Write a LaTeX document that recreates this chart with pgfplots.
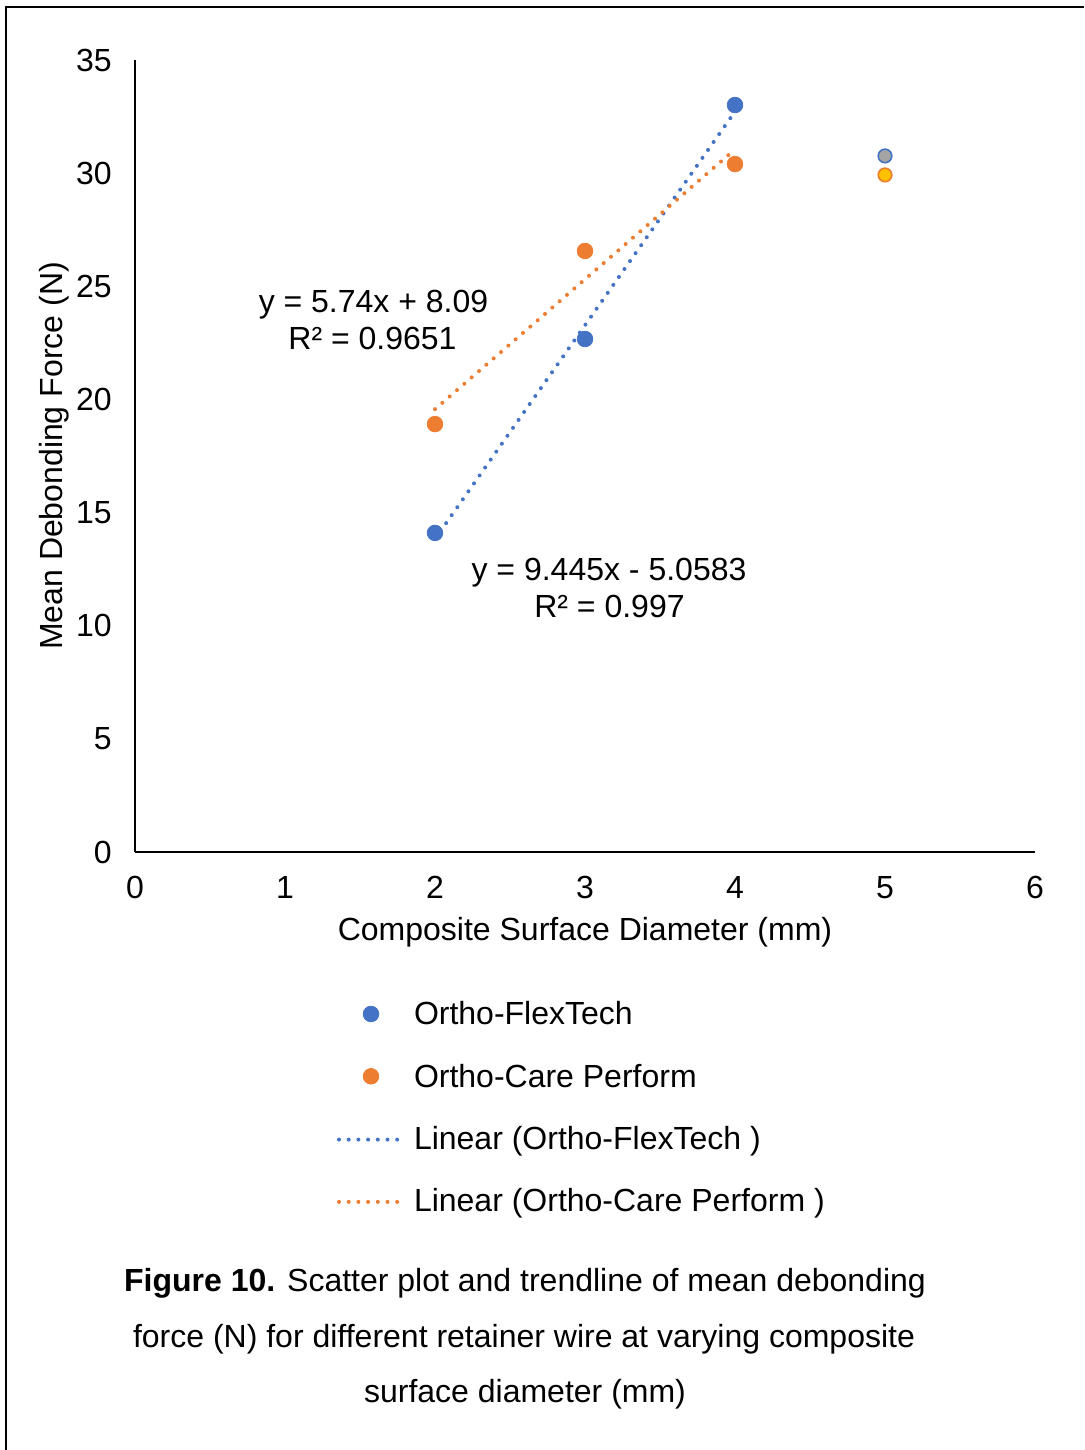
\documentclass[border=0pt]{standalone}
\usepackage{pgfplots}
\pgfplotsset{compat=1.18}
\usepackage{fontspec}
\setmainfont{Liberation Sans}
\definecolor{cblue}{HTML}{4472C4}
\definecolor{corange}{HTML}{ED7D31}
\definecolor{cgray}{HTML}{A5A5A5}
\definecolor{cyellow}{HTML}{FFC000}
\newcommand{\F}{\fontsize{16}{19}\selectfont}
\pgfplotsset{
  scatleg/.style={legend image code/.code={\draw[mark repeat=2,mark phase=2,##1] plot coordinates {(0pt,1.5pt)(16pt,1.5pt)(30.5pt,1.5pt)};}},
  lineleg/.style={legend image code/.code={\draw[##1] (0pt,1pt) -- (30.5pt,1pt);}},
}
\begin{document}
\begin{tikzpicture}
\useasboundingbox (0pt,0pt) rectangle (542pt,725pt);
\draw[line width=1pt] (3pt,0pt) -- (3pt,721.5pt) -- (542pt,721.5pt);
\begin{axis}[
  at={(67.5pt,299pt)}, anchor=south west,
  scale only axis, width=450pt, height=396pt,
  xmin=0, xmax=6, ymin=0, ymax=35,
  xtick={0,1,2,3,4,5,6}, ytick={0,5,10,15,20,25,30,35},
  axis lines=left, axis line style={-, line width=0.8pt, black},
  major tick length=0pt,
  tick label style={font=\F, /pgf/number format/assume math mode=true},
  xticklabel style={anchor=north, inner sep=0pt, yshift=-12pt},
  yticklabel style={anchor=east, inner sep=0pt, xshift=-11.5pt},
  xlabel={Composite Surface Diameter (mm)},
  ylabel={Mean Debonding Force (N)},
  label style={font=\F, inner sep=0pt},
  xlabel style={at={(axis description cs:0.5,0)}, anchor=base, yshift=-44.5pt},
  ylabel style={at={(axis description cs:-0.0803,0.5)}, anchor=base},
  legend cell align=left,
  legend style={at={(axis description cs:0.22444,-0.18813)}, anchor=north west,
    draw=none, fill=none, inner sep=0pt, outer sep=0pt, font=\F,
    row sep=15.15pt,
    nodes={inner sep=0pt, text height=12pt, text depth=4pt},
    /tikz/every odd column/.append style={column sep=6pt}},
]
\addplot[only marks, mark=*, mark size=3.9pt, color=cblue, mark options={draw=cblue, fill=cblue}, scatleg]
  coordinates {(2,14.10) (3,22.67) (4,33.01)};
\addlegendentry{Ortho-FlexTech}
\addplot[only marks, mark=*, mark size=3.9pt, color=corange, mark options={draw=corange, fill=corange}, scatleg]
  coordinates {(2,18.91) (3,26.56) (4,30.40)};
\addlegendentry{Ortho-Care Perform}
\addplot[color=cblue, line width=2pt, line cap=round, dash pattern=on 0pt off 4.85pt, lineleg]
  coordinates {(2,13.832) (4,32.722)};
\addlegendentry{Linear (Ortho-FlexTech )}
\addplot[color=corange, line width=2pt, line cap=round, dash pattern=on 0pt off 4.85pt, lineleg]
  coordinates {(2,19.57) (4,31.05)};
\addlegendentry{Linear (Ortho-Care Perform )}
\addplot[forget plot, only marks, mark=*, mark size=3.4pt, mark options={draw=cblue, fill=cgray, line width=0.8pt}]
  coordinates {(5,30.76)};
\addplot[forget plot, only marks, mark=*, mark size=3.4pt, mark options={draw=corange, fill=cyellow, line width=0.8pt}]
  coordinates {(5,29.92)};
\end{axis}
\node[font=\F, anchor=base, inner sep=0pt] at (186.75pt,568.5pt) {y = 5.74x + 8.09};
\node[font=\F, anchor=base, inner sep=0pt] at (186.25pt,550pt) {R² = 0.9651};
\node[font=\F, anchor=base, inner sep=0pt] at (304.5pt,434.5pt) {y = 9.445x - 5.0583};
\node[font=\F, anchor=base, inner sep=0pt] at (304.75pt,416pt) {R² = 0.997};
\node[font=\F, anchor=base, inner sep=0pt] at (262.5pt,79pt) {\textbf{Figure 10.} Scatter plot and trendline of mean debonding};
\node[font=\F, anchor=base, inner sep=0pt] at (262pt,51pt) {force (N) for different retainer wire at varying composite};
\node[font=\F, anchor=base, inner sep=0pt] at (262.5pt,23.5pt) {surface diameter (mm)};
\end{tikzpicture}
\end{document}
